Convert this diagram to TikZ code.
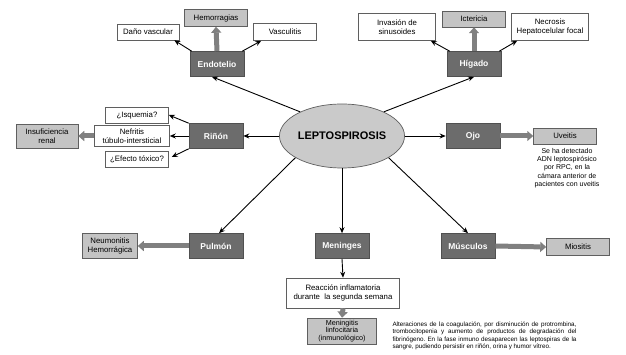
\documentclass[tikz,border=0pt]{standalone}
\usepackage{fontspec}
\setsansfont{Liberation Sans}
\usepackage{tikz}
\usetikzlibrary{arrows.meta,positioning,shapes.geometric,calc}
\definecolor{organ}{RGB}{108,108,108}
\definecolor{organline}{RGB}{80,80,80}
\definecolor{lesion}{RGB}{196,196,196}
\definecolor{hub}{RGB}{202,202,202}
\definecolor{rim}{RGB}{95,95,95}
\definecolor{shaft}{RGB}{128,128,128}

\begin{document}
\begin{tikzpicture}[x=1pt,y=-1pt,
  font=\sffamily\fontsize{7.8}{9}\selectfont,
  organ/.style={draw=organline,fill=organ,text=white,line width=0.6pt,inner sep=0pt,
                minimum width=54pt,minimum height=25pt,font=\sffamily\bfseries\fontsize{8.5}{10}\selectfont},
  wbox/.style={draw=rim,fill=white,line width=0.5pt,align=center,inner sep=0pt,
               minimum width=63pt,minimum height=16pt},
  gbox/.style={wbox,fill=lesion},
  hubnode/.style={ellipse,draw=rim,fill=hub,line width=0.7pt,minimum width=116pt,
                  minimum height=64pt,inner sep=0pt,font=\sffamily\bfseries\fontsize{11}{13}\selectfont},
  ar/.style={-{Stealth[length=6pt,width=5pt]},line width=0.9pt,draw=black},
  fat/.style={-{Triangle[length=6pt,width=10pt]},line width=5pt,draw=shaft}]

\useasboundingbox (0,0) rectangle (626,355);

\node[hubnode] (lep) at (342,136) {LEPTOSPIROSIS};

\node[organ] (endo) at (217,64) {Endotelio};
\node[organ] (hig) at (474,64) {Hígado};
\node[organ] (rin) at (216,136) {Riñón};
\node[organ] (ojo) at (473,136) {Ojo};
\node[organ] (pul) at (216,246) {Pulmón};
\node[organ] (men) at (342,246) {Meninges};
\node[organ] (mus) at (468,246) {Músculos};

\node[wbox,minimum width=62pt] (dano) at (148,32) {Daño vascular};
\node[gbox,minimum height=17pt] (hem) at (216,18) {Hemorragias};
\node[wbox,minimum height=17pt] (vasc) at (285,32) {Vasculitis};

\node[wbox,minimum width=77pt,minimum height=27pt] (inv) at (397,27) {Invasión de\\sinusoides};
\node[gbox] (ict) at (474,19) {Ictericia};
\node[wbox,minimum width=77pt,minimum height=27pt] (necr) at (550,27) {Necrosis\\Hepatocelular focal};

\node[wbox] (isq) at (137,115) {¿Isquemia?};
\node[wbox,minimum width=75pt,minimum height=21pt] (nef) at (132,136) {Nefritis\\túbulo-intersticial};
\node[wbox] (efe) at (137,159) {¿Efecto tóxico?};
\node[gbox,minimum width=62pt,minimum height=24pt] (insuf) at (47,136) {Insuficiencia\\renal};

\node[gbox] (uve) at (565,136) {Uveitis};
\node[align=center,inner sep=0pt,font=\sffamily\fontsize{7}{8.4}\selectfont] (uvnote) at (567,168)
  {Se ha detectado\\ADN leptospirósico\\por RPC, en la\\cámara anterior de\\pacientes con uveitis};

\node[gbox,minimum width=55pt,minimum height=25pt] (neum) at (110,246) {Neumonitis\\Hemorrágica};

\node[wbox,minimum width=113pt,minimum height=30pt] (reac) at (343,293)
  {Reacción inflamatoria\\durante\ \ la segunda semana};
\node[gbox,minimum width=69pt,minimum height=26pt,font=\sffamily\fontsize{7.2}{7.6}\selectfont] (mening) at (342,331)
  {Meningitis\\linfocitaria\\(inmunológico)};

\node[gbox,minimum height=17pt] (mio) at (578,247) {Miositis};

\node[align=justify,text width=184pt,inner sep=0pt,font=\sffamily\fontsize{6.3}{7.4}\selectfont] (nota) at (484.5,336)
  {\frenchspacing\hyphenpenalty=10000
   Alteraciones de la coagulación, por disminución de protrombina,\linebreak
   trombocitopenia y aumento de productos de degradación del\linebreak
   fibrinógeno. En la fase inmuno desaparecen las leptospiras de la\linebreak
   sangre, pudiendo persistir en riñón, orina y humor vítreo.};

\draw[ar] (lep.150) -- ([xshift=-5pt]endo.south);
\draw[ar] (lep.30) -- (hig.south);
\draw[ar] (lep.west) -- (rin.east);
\draw[ar] (lep.east) -- (ojo.west);
\draw[ar] (lep.205) -- ([xshift=3pt]pul.north);
\draw[ar] (lep.south) -- (men.north);
\draw[ar] (lep.-25) -- (mus.north);

\draw[ar] ([xshift=2pt]endo.north west) -- ([xshift=-5pt]dano.south east);
\draw[ar] ([xshift=-2pt]endo.north east) -- ([xshift=8pt]vasc.south west);
\draw[fat] (endo.north) -- (hem.south);

\draw[ar] ([xshift=3pt]hig.north west) -- ([xshift=-5pt]inv.south east);
\draw[ar] ([xshift=-2pt]hig.north east) -- ([xshift=6pt]necr.south west);
\draw[fat] (hig.north) -- (ict.south);

\draw[ar] (rin.north west) -- (isq.east);
\draw[ar] (rin.west) -- (nef.east);
\draw[ar] (rin.south west) -- ([xshift=3pt,yshift=2pt]efe.east);
\draw[fat] (nef.west) -- (insuf.east);

\draw[fat] (ojo.east) -- (uve.west);
\draw[fat] (pul.west) -- (neum.east);
\draw[ar] (men.south) -- (reac.north);
\draw[fat] (reac.south) -- (mening.north);
\draw[fat] (mus.east) -- (mio.west);
\end{tikzpicture}
\end{document}
